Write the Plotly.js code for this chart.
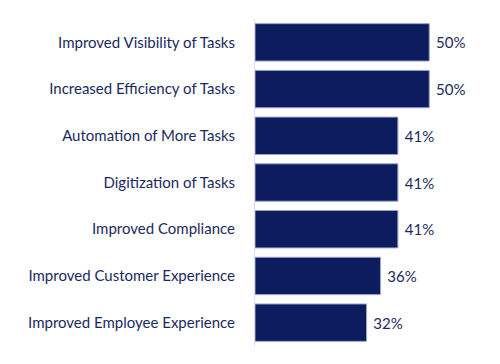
<!DOCTYPE html>
<html>
<head>
<meta charset="utf-8">
<script src="https://cdn.plot.ly/plotly-3.0.1.min.js"></script>
<style>html,body{margin:0;padding:0;background:#fff;}#chart{width:500px;height:364px;}</style>
</head>
<body>
<div id="chart"></div>
<script>
const categories = [
  "Improved Visibility of Tasks",
  "Increased Efficiency of Tasks",
  "Automation of More Tasks",
  "Digitization of Tasks",
  "Improved Compliance",
  "Improved Customer Experience",
  "Improved Employee Experience"
];
const values = [50, 50, 41, 41, 41, 36, 32];
const valueLabels = ["50%", "50%", "41%", "41%", "41%", "36%", "32%"];

const textColor = "#1b2a5e";
const fontFam = "Lato, 'Open Sans', sans-serif";
const trace = {
  type: "bar",
  orientation: "h",
  y: categories,
  x: values,
  text: valueLabels.map(s => " " + s),
  textposition: "outside",
  cliponaxis: false,
  textfont: {family: fontFam, size: 15, color: textColor},
  marker: {color: "#0c1c5e", line: {color: "#9aa3c8", width: 1}},
  hoverinfo: "none"
};
const layout = {
  width: 500, height: 364,
  margin: {l: 255, r: 0, t: 19, b: 18},
  paper_bgcolor: "#fff", plot_bgcolor: "#fff",
  bargap: 0.2,
  showlegend: false,
  font: {family: fontFam, size: 15, color: textColor},
  xaxis: {range: [0, 70.3], visible: false, showgrid: false, zeroline: false, fixedrange: true},
  yaxis: {
    autorange: "reversed",
    showline: true, linecolor: "#d9dde8", linewidth: 1,
    ticks: "", showgrid: false, zeroline: false,
    ticklabelstandoff: 16,
    tickfont: {family: fontFam, size: 15, color: textColor},
    fixedrange: true
  }
};
Plotly.newPlot("chart", [trace], layout, {displayModeBar: false, staticPlot: true});
</script>
</body>
</html>
